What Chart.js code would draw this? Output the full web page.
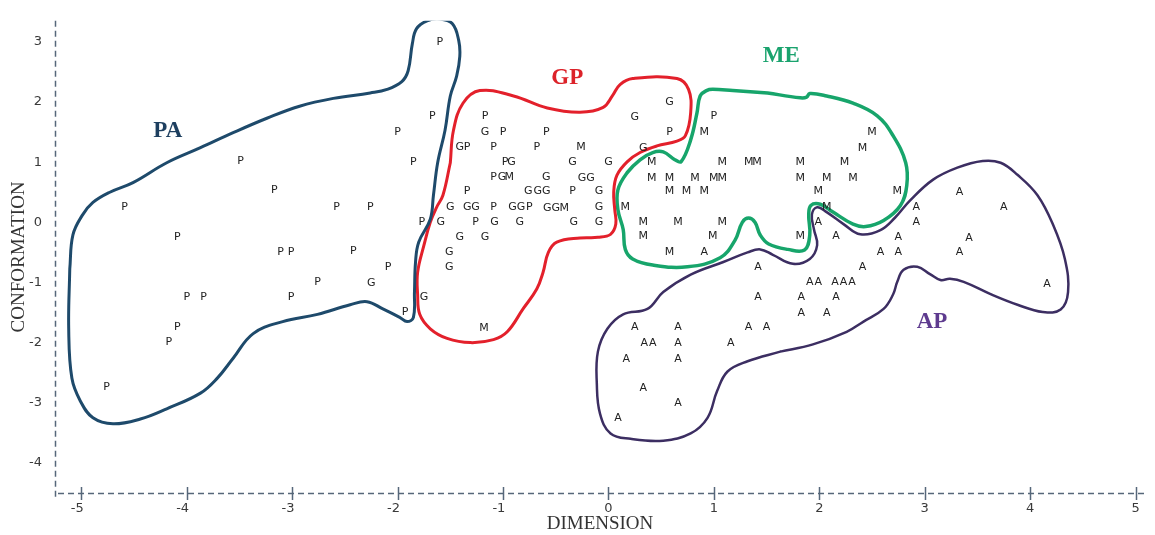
<!DOCTYPE html>
<html>
<head>
<meta charset="utf-8">
<script src="https://cdn.jsdelivr.net/npm/chart.js@4.4.1/dist/chart.umd.min.js"></script>
<style>
  html, body { margin: 0; padding: 0; background: #ffffff; }
  #wrap { width: 1155px; height: 535px; position: relative; }
</style>
</head>
<body>
<div id="wrap"><canvas id="chart"></canvas></div>
<script>
// Axis ticks
const xTicks = [-5, -4, -3, -2, -1, 0, 1, 2, 3, 4, 5];
const yTicks = [-4, -3, -2, -1, 0, 1, 2, 3];

// Individual samples, one letter per sample: [dimension, conformation]
const pMarks = [
  [-1.60, 3.00], [-1.67, 1.77], [-2.00, 1.50], [-3.49, 1.02], [-1.85, 1.00], [-3.17, 0.53],
  [-4.59, 0.25], [-2.58, 0.26], [-2.26, 0.26], [-1.77, 0.00], [-4.09, -0.25], [-3.11, -0.50],
  [-3.01, -0.50], [-2.42, -0.48], [-2.09, -0.74], [-2.76, -0.99], [-3.01, -1.24], [-4.00, -1.24],
  [-3.84, -1.24], [-4.09, -1.75], [-4.17, -2.00], [-4.76, -2.74], [-1.93, -1.50],
  [-1.17, 1.77], [-1.00, 1.50], [-0.59, 1.50], [-1.34, 1.25], [-1.09, 1.25], [-0.68, 1.25],
  [0.58, 1.50], [-0.98, 1.00], [-1.09, 0.75], [-1.34, 0.52], [-0.34, 0.52], [-1.09, 0.25],
  [-0.75, 0.25], [-1.26, 0.00], [1.00, 1.76]
];
const gMarks = [
  [-2.25, -1.01], [-1.75, -1.25], [-1.17, 1.50], [-1.41, 1.25], [-0.92, 1.00], [-0.34, 1.00],
  [0.00, 1.00], [-1.01, 0.75], [-0.59, 0.75], [-0.25, 0.74], [-0.17, 0.74], [-0.76, 0.51],
  [-0.67, 0.51], [-0.59, 0.51], [-0.09, 0.51], [-1.50, 0.25], [-1.34, 0.25], [-1.26, 0.25],
  [-0.91, 0.25], [-0.83, 0.25], [-0.58, 0.24], [-0.50, 0.24], [-0.09, 0.25], [-1.59, 0.00],
  [-1.08, 0.00], [-0.84, 0.00], [-0.33, 0.00], [-0.09, 0.00], [-1.41, -0.25], [-1.17, -0.25],
  [-1.51, -0.50], [-1.51, -0.74], [0.25, 1.75], [0.58, 1.99], [0.33, 1.24]
];
const mMarks = [
  [-0.26, 1.25], [-0.94, 0.75], [-0.42, 0.24], [-1.18, -1.76], [0.91, 1.50], [2.50, 1.50],
  [2.41, 1.24], [0.41, 1.00], [1.08, 1.00], [1.33, 1.00], [1.41, 1.00], [1.82, 1.00],
  [2.24, 1.00], [0.41, 0.74], [0.58, 0.74], [0.82, 0.74], [1.00, 0.74], [1.08, 0.74],
  [1.82, 0.74], [2.07, 0.74], [2.32, 0.74], [0.58, 0.51], [0.74, 0.51], [0.91, 0.51],
  [1.99, 0.51], [2.74, 0.51], [0.16, 0.26], [2.07, 0.26], [0.33, 0.00], [0.66, 0.00],
  [1.08, 0.00], [0.33, -0.23], [0.99, -0.23], [1.82, -0.23], [0.58, -0.50]
];
const aMarks = [
  [2.92, 0.26], [2.92, 0.00], [1.99, 0.00], [2.16, -0.23], [2.75, -0.24], [0.91, -0.50],
  [2.58, -0.50], [2.75, -0.50], [1.42, -0.75], [2.41, -0.75], [1.91, -1.00], [1.99, -1.00],
  [2.15, -1.00], [2.23, -1.00], [2.31, -1.00], [1.42, -1.25], [1.83, -1.25], [2.16, -1.25],
  [1.83, -1.51], [2.07, -1.51], [0.25, -1.74], [0.66, -1.74], [1.33, -1.74], [1.50, -1.74],
  [0.34, -2.01], [0.42, -2.01], [0.66, -2.01], [1.16, -2.01], [0.17, -2.27], [0.66, -2.27],
  [0.33, -2.75], [0.66, -3.00], [0.09, -3.25], [3.33, 0.50], [3.75, 0.25], [3.42, -0.26],
  [3.33, -0.50], [4.16, -1.02]
];

// Group outlines (closed curves)
const paOutline = [
  [-5.11, -0.78], [-5.08, -0.21], [-4.99, 0.12], [-4.89, 0.33], [-4.73, 0.50], [-4.51, 0.66],
  [-4.19, 0.99], [-3.87, 1.24], [-3.56, 1.49], [-3.24, 1.73], [-2.93, 1.93], [-2.61, 2.06],
  [-2.26, 2.15], [-2.10, 2.21], [-1.96, 2.34], [-1.90, 2.52], [-1.86, 2.97], [-1.82, 3.22],
  [-1.72, 3.35], [-1.60, 3.38], [-1.48, 3.30], [-1.42, 3.02], [-1.41, 2.76], [-1.44, 2.43],
  [-1.50, 2.10], [-1.55, 1.53], [-1.62, 0.99], [-1.66, 0.45], [-1.69, 0.05], [-1.80, -0.33],
  [-1.83, -0.66], [-1.84, -1.16], [-1.85, -1.58], [-1.91, -1.65], [-1.98, -1.58], [-2.14, -1.44],
  [-2.29, -1.32], [-2.45, -1.37], [-2.76, -1.53], [-3.09, -1.65], [-3.37, -1.85], [-3.56, -2.26],
  [-3.71, -2.59], [-3.87, -2.84], [-4.19, -3.10], [-4.44, -3.27], [-4.70, -3.35], [-4.89, -3.25],
  [-5.01, -2.97], [-5.09, -2.59], [-5.12, -1.77], [-5.11, -0.78]
];
const gpOutline = [
  [-1.50, 0.99], [-1.47, 1.53], [-1.38, 1.98], [-1.22, 2.19], [-0.90, 2.10], [-0.58, 1.90],
  [-0.27, 1.83], [-0.05, 1.91], [0.04, 2.11], [0.11, 2.29], [0.23, 2.39], [0.65, 2.39],
  [0.76, 2.21], [0.78, 1.82], [0.73, 1.44], [0.65, 1.35], [0.46, 1.27], [0.30, 1.16],
  [0.18, 1.01], [0.08, 0.78], [0.05, 0.50], [0.06, 0.21], [0.07, -0.03], [0.02, -0.20],
  [-0.10, -0.25], [-0.27, -0.26], [-0.49, -0.33], [-0.57, -0.50], [-0.62, -0.83], [-0.68, -1.11],
  [-0.81, -1.44], [-0.96, -1.82], [-1.09, -1.95], [-1.31, -2.00], [-1.53, -1.93], [-1.69, -1.77],
  [-1.79, -1.53], [-1.81, -1.20], [-1.81, -0.83], [-1.75, -0.38], [-1.69, 0.00], [-1.63, 0.25],
  [-1.57, 0.45], [-1.50, 0.99]
];
const meOutline = [
  [1.51, 2.15], [1.82, 2.07], [1.88, 2.08], [1.91, 2.14], [2.07, 2.10], [2.32, 1.98],
  [2.55, 1.77], [2.70, 1.44], [2.82, 0.99], [2.83, 0.61], [2.77, 0.28], [2.61, 0.03],
  [2.44, -0.07], [2.32, -0.03], [2.13, 0.17], [2.01, 0.30], [1.92, 0.28], [1.90, 0.12],
  [1.91, -0.21], [1.86, -0.46], [1.70, -0.45], [1.52, -0.36], [1.44, -0.21], [1.39, 0.00],
  [1.33, 0.07], [1.27, 0.00], [1.20, -0.30], [1.06, -0.59], [0.75, -0.74], [0.42, -0.71],
  [0.23, -0.61], [0.16, -0.45], [0.14, -0.12], [0.09, 0.21], [0.09, 0.54], [0.18, 0.83],
  [0.30, 1.04], [0.42, 1.16], [0.52, 1.17], [0.63, 1.04], [0.69, 1.01], [0.78, 1.37],
  [0.84, 1.82], [0.87, 2.10], [0.93, 2.19], [0.99, 2.21], [1.18, 2.19], [1.51, 2.15]
];
const apOutline = [
  [1.63, -2.15], [1.32, -2.31], [1.13, -2.48], [1.03, -2.81], [0.94, -3.25], [0.78, -3.51],
  [0.52, -3.63], [0.21, -3.60], [0.02, -3.51], [-0.08, -3.18], [-0.11, -2.69], [-0.10, -2.15],
  [-0.01, -1.77], [0.14, -1.53], [0.37, -1.44], [0.52, -1.16], [0.78, -0.87], [1.09, -0.66],
  [1.32, -0.50], [1.44, -0.45], [1.56, -0.54], [1.75, -0.69], [1.91, -0.61], [1.98, -0.38],
  [1.95, -0.12], [1.93, 0.13], [1.98, 0.25], [2.07, 0.17], [2.23, -0.03], [2.39, -0.20],
  [2.58, -0.13], [2.72, 0.08], [2.86, 0.36], [3.08, 0.71], [3.31, 0.91], [3.55, 1.02],
  [3.72, 0.99], [3.88, 0.79], [4.07, 0.45], [4.22, -0.05], [4.33, -0.61], [4.36, -1.16],
  [4.29, -1.45], [4.12, -1.49], [3.88, -1.37], [3.62, -1.19], [3.37, -0.99], [3.24, -0.94],
  [3.15, -0.96], [3.05, -0.86], [2.93, -0.74], [2.80, -0.79], [2.74, -0.99], [2.70, -1.20],
  [2.61, -1.44], [2.42, -1.65], [2.26, -1.82], [1.94, -2.03], [1.63, -2.15]
];

// Group names and where they sit
const groupNames = ['PA', 'GP', 'ME', 'AP'];
const groupNameX = [-4.18, -0.39, 1.64, 3.07];
const groupNameY = [1.52, 2.39, 2.76, -1.65];
const groupColors = ['#1d3f5f', '#dc2229', '#1aa36e', '#5e3b8f'];

const axisColor = '#56677a';
const toXY = arr => arr.map(([x, y]) => ({ x, y }));

function outline(label, pts, color, width) {
  return {
    label, data: toXY(pts), showLine: true, fill: false,
    borderColor: color, borderWidth: width, tension: 0.4,
    borderCapStyle: 'round', borderJoinStyle: 'round',
    pointRadius: 0, pointHoverRadius: 0, pointHitRadius: 0, order: 2
  };
}
function letters(label, pts, letter) {
  return {
    label, data: toXY(pts), mark: letter, markColor: '#222222',
    markFont: '11px "DejaVu Sans", sans-serif',
    pointRadius: 0, pointHoverRadius: 0, pointHitRadius: 0, order: 1
  };
}

// Draws the letter of each sample (and group names) at the point's pixel position
const letterMarks = {
  id: 'letterMarks',
  afterDatasetsDraw(chart) {
    const ctx = chart.ctx;
    ctx.save();
    ctx.textAlign = 'center';
    ctx.textBaseline = 'middle';
    chart.data.datasets.forEach((ds, i) => {
      if (!ds.mark && !ds.names) return;
      const meta = chart.getDatasetMeta(i);
      ctx.font = ds.markFont;
      meta.data.forEach((el, j) => {
        ctx.fillStyle = ds.names ? ds.nameColors[j] : ds.markColor;
        ctx.fillText(ds.names ? ds.names[j] : ds.mark, el.x, el.y);
      });
    });
    ctx.restore();
  }
};

// Dashed axis lines on the left and bottom, with tick marks crossing the bottom one
const dashedAxes = {
  id: 'dashedAxes',
  afterDraw(chart) {
    const { left, right, top, bottom } = chart.chartArea;
    const s = chart.scales.x, ctx = chart.ctx;
    ctx.save();
    ctx.strokeStyle = axisColor;
    ctx.lineWidth = 1.5;
    ctx.setLineDash([6, 4]);
    ctx.beginPath();
    ctx.moveTo(left + 0.5, top);
    ctx.lineTo(left + 0.5, bottom + 4);
    ctx.moveTo(left + 3, bottom + 0.5);
    ctx.lineTo(right, bottom + 0.5);
    ctx.stroke();
    ctx.setLineDash([]);
    s.ticks.forEach((t, i) => {
      const px = Math.round(s.getPixelForTick(i)) + 0.5;
      ctx.beginPath();
      ctx.moveTo(px, bottom - 6);
      ctx.lineTo(px, bottom + 7);
      ctx.stroke();
    });
    ctx.restore();
  }
};

new Chart(document.getElementById('chart'), {
  type: 'scatter',
  data: {
    datasets: [
      letters('P', pMarks, 'P'),
      letters('G', gMarks, 'G'),
      letters('M', mMarks, 'M'),
      letters('A', aMarks, 'A'),
      {
        label: 'groups',
        data: groupNameX.map((x, i) => ({ x, y: groupNameY[i] })),
        names: groupNames, nameColors: groupColors,
        markFont: 'bold 23px "Liberation Serif", "Times New Roman", serif',
        pointRadius: 0, pointHoverRadius: 0, pointHitRadius: 0, order: 1
      },
      outline('PA outline', paOutline, '#1e4a6b', 3),
      outline('GP outline', gpOutline, '#e3202b', 3),
      outline('ME outline', meOutline, '#17a56b', 3.5),
      outline('AP outline', apOutline, '#3c2e62', 2.5)
    ]
  },
  options: {
    responsive: true,
    maintainAspectRatio: false,
    animation: false,
    events: [],
    layout: { padding: { top: 17, right: 10, left: 0, bottom: 0 } },
    plugins: { legend: { display: false }, tooltip: { enabled: false } },
    scales: {
      x: {
        type: 'linear', min: -5.25, max: 5.09,
        afterBuildTicks: s => { s.ticks = xTicks.map(v => ({ value: v })); },
        afterFit: s => { s.height = 42; },
        grid: { display: false, drawTicks: false },
        border: { display: false },
        ticks: {
          padding: 8, color: '#3a3a3a',
          font: { family: '"DejaVu Sans", sans-serif', size: 13 },
          callback: v => (v < 0 ? v + '\u2007' : String(v))
        },
        title: {
          display: true, text: 'DIMENSION', color: '#333333',
          font: { family: '"Liberation Serif", "Times New Roman", serif', size: 19 },
          padding: { top: 0, bottom: 0 }
        }
      },
      y: {
        type: 'linear', min: -4.5, max: 3.35,
        afterBuildTicks: s => { s.ticks = yTicks.map(v => ({ value: v })); },
        afterFit: s => { s.width = 55; },
        grid: { display: false, drawTicks: false },
        border: { display: false },
        ticks: {
          padding: 13, color: '#3a3a3a',
          font: { family: '"DejaVu Sans", sans-serif', size: 13 }
        },
        title: {
          display: true, text: 'CONFORMATION', color: '#333333',
          font: { family: '"Liberation Serif", "Times New Roman", serif', size: 19 },
          padding: { top: 8, bottom: 0 }
        }
      }
    }
  },
  plugins: [letterMarks, dashedAxes]
});
</script>
</body>
</html>
